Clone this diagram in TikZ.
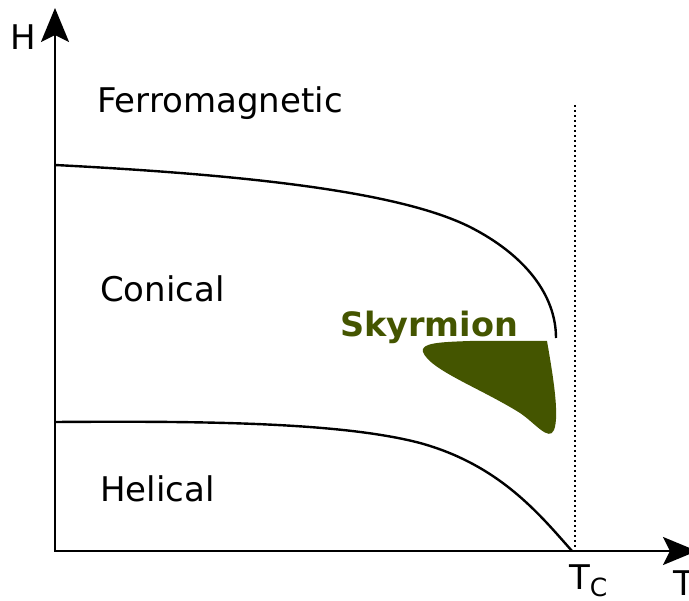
\documentclass[tikz,border=0pt]{standalone}
\usepackage{fontspec}
\setmainfont{DejaVu Sans}
\usepackage{xcolor}
\usepackage{tikz}
\usetikzlibrary{arrows.meta}
\definecolor{Ink}     {HTML}{000000}
\definecolor{SkOlive} {HTML}{445500}

\begin{document}
\begin{tikzpicture}[x=1pt, y=-1pt,
    axis/.style={line width=2.5pt, Ink, -{Stealth[length=34pt, width=28pt, inset=7pt]}},
    boundary/.style={line width=2.4pt, Ink},
    phase/.style={anchor=base west, inner sep=0pt, text=Ink, font=\fontsize{34}{38}\selectfont}]

  \useasboundingbox (0,0) rectangle (689,601);

  % ===== AXES =====
  \coordinate (origin) at (55,551);
  \coordinate (Htip) at (55,8);
  \coordinate (Ttip) at (697,551);
  \draw[axis] (55,552) -- (Htip);
  \draw[axis] (origin) -- (Ttip);
  \node[phase] (Hlab) at (10,50) {H};
  \node[phase] (Tlab) at (673,596) {T};

  % ===== CRITICAL TEMPERATURE =====
  \coordinate (Tc) at (575,551);
  \draw[line width=2.5pt, Ink, dash pattern=on 2.5pt off 2.5pt] (575,105) -- (Tc);
  \node[phase] (Tclab) at (569,590)
        {T\raisebox{-7pt}{\fontsize{25}{28}\selectfont C}};

  % ===== PHASE BOUNDARIES =====
  % ferromagnetic / conical
  \draw[boundary] (55,165) .. controls (250,175) and (400,192) .. (470,227)
        .. controls (525,255) and (556,295) .. (556,338);
  % conical / helical
  \draw[boundary] (55,422) .. controls (200,421) and (340,422) .. (420,443)
        .. controls (500,465) and (540,515) .. (572,551);

  % ===== SKYRMION POCKET =====
  \fill[SkOlive] (547,341) .. controls (552,370) and (560,415) .. (554,430)
        .. controls (549,442) and (535,423) .. (520,413)
        .. controls (480,388) and (430,370) .. (423,352)
        .. controls (420,343) and (440,342) .. (470,341) -- cycle;

  % ===== PHASE LABELS =====
  \node[phase] (ferro)   at (97,113)  {Ferromagnetic};
  \node[phase] (conical) at (100,302) {Conical};
  \node[phase] (helical) at (100,502) {Helical};
  \node[phase, text=SkOlive, font=\fontsize{33.5}{38}\selectfont\bfseries]
        (skyrm) at (340,337) {Skyrmion};

\end{tikzpicture}
\end{document}
